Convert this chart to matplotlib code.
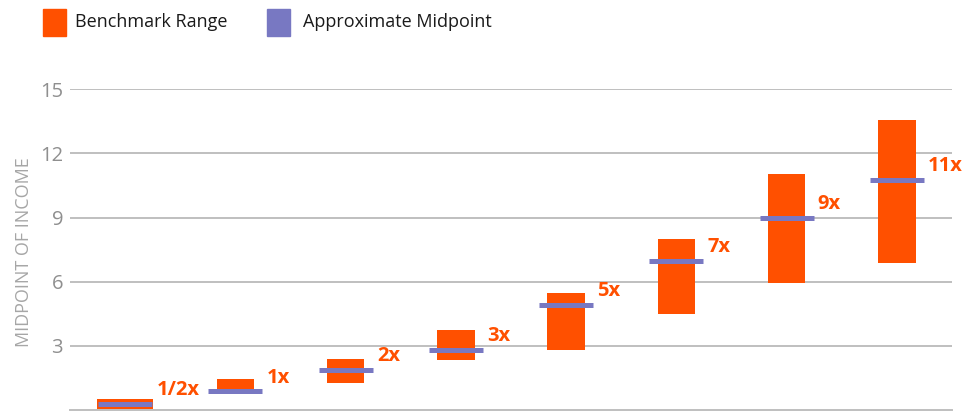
import numpy as np
import matplotlib.pyplot as plt
from matplotlib.patches import Rectangle

plt.rcParams['font.family'] = ['Open Sans', 'DejaVu Sans']

# data
labels = ['1/2x', '1x', '2x', '3x', '5x', '7x', '9x', '11x']
range_low = [0.05, 0.8, 1.28, 2.34, 2.81, 4.51, 5.92, 6.86]
range_high = [0.52, 1.45, 2.39, 3.75, 5.48, 8.02, 11.06, 13.55]
midpoints = [0.28, 0.87, 1.86, 2.8, 4.91, 6.97, 8.98, 10.77]
series_names = ['Benchmark Range', 'Approximate Midpoint']
y_ticks = [3, 6, 9, 12, 15]

orange = '#FF5000'
purple = '#7878C2'
grid_col = '#BFBFBF'

fig = plt.figure(figsize=(9.73, 4.12), dpi=100)
ax = fig.add_axes([70 / 973, 2 / 412, 882 / 973, 320.7 / 412])

x = np.arange(len(labels))
low = np.array(range_low)
high = np.array(range_high)
widths = np.full(len(labels), 0.34)
widths[0] = 0.51  # first bar is drawn as wide as its midpoint marker

ax.bar(x, high - low, bottom=low, width=widths, color=orange, zorder=2)
half = 0.245
ax.hlines(midpoints, x - half, x + half, color=purple, lw=3.6,
          capstyle='butt', zorder=3)

for xi, m, lab in zip(x, midpoints, labels):
    ax.annotate(lab, (xi + half, m), xytext=(3, 10), textcoords='offset points',
                ha='left', va='center', fontsize=14.5, fontweight='bold',
                color=orange, zorder=4)

ax.set_xlim(-0.5, len(labels) - 0.5)
ax.set_ylim(0, 15)
ax.set_yticks(y_ticks)
ax.set_xticks([])
ax.tick_params(axis='y', length=0, pad=5, labelsize=14.5, labelcolor='#8F8F8F')
ax.yaxis.grid(True, color=grid_col, lw=1.4, zorder=0)
ax.set_axisbelow(True)
for s in ['top', 'right', 'left']:
    ax.spines[s].set_visible(False)
ax.spines['bottom'].set_color(grid_col)
ax.spines['bottom'].set_linewidth(1.4)

fig.text(24 / 973, 1 - 252 / 412, 'MIDPOINT OF INCOME', rotation=90,
         ha='center', va='center', fontsize=13, color='#A6A6A6')

# legend drawn by hand to sit exactly like the reference
for (lx, tx), name, col in zip([(43, 75), (267, 303)], series_names, [orange, purple]):
    fig.add_artist(Rectangle((lx / 973, 1 - 36 / 412), 23 / 973, 27 / 412,
                             transform=fig.transFigure, color=col))
    fig.text(tx / 973, 1 - 22 / 412, name, ha='left', va='center',
             fontsize=13, color='#1A1A1A')

fig.savefig('out.png', dpi=100)
